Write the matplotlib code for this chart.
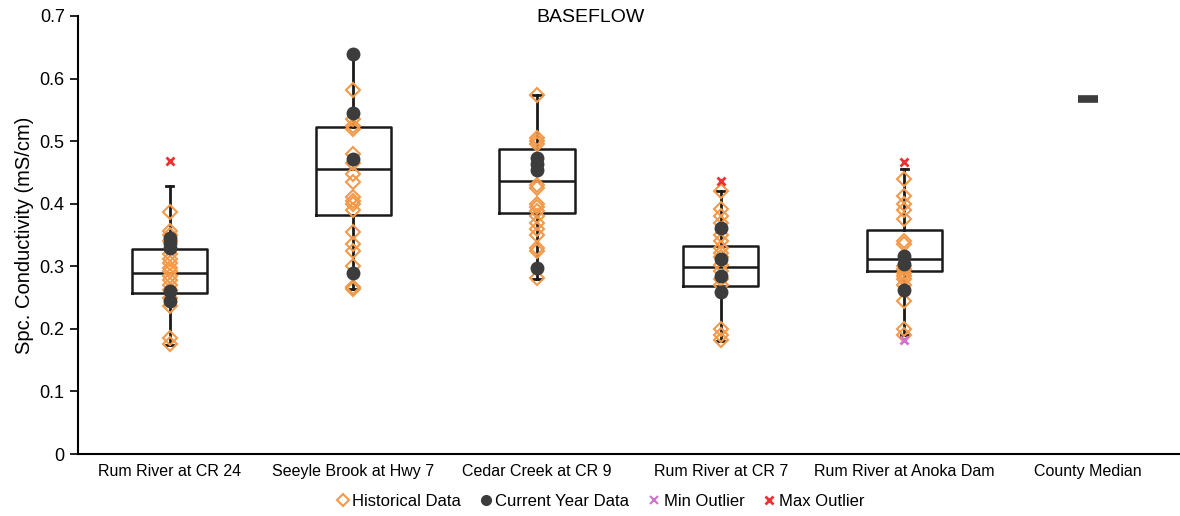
import matplotlib
matplotlib.use("Agg")
import matplotlib.pyplot as plt
from matplotlib.lines import Line2D

plt.rcParams["font.family"] = ["Liberation Sans", "DejaVu Sans"]

categories = ["Rum River at CR 24", "Seeyle Brook at Hwy 7", "Cedar Creek at CR 9",
              "Rum River at CR 7", "Rum River at Anoka Dam", "County Median"]

# box statistics for the five sites
q1 = [0.257, 0.382, 0.386, 0.268, 0.292]
med = [0.290, 0.455, 0.437, 0.299, 0.311]
q3 = [0.327, 0.522, 0.487, 0.333, 0.358]
wlo = [0.175, 0.263, 0.280, 0.180, 0.190]
whi = [0.428, 0.640, 0.573, 0.420, 0.455]

historical = [
    [0.387, 0.357, 0.350, 0.340, 0.320, 0.312, 0.305, 0.298, 0.292, 0.285, 0.278,
     0.270, 0.262, 0.250, 0.236, 0.185, 0.176],
    [0.581, 0.535, 0.525, 0.520, 0.480, 0.465, 0.447, 0.435, 0.410, 0.405, 0.400,
     0.390, 0.355, 0.335, 0.325, 0.300, 0.267, 0.263],
    [0.573, 0.505, 0.500, 0.495, 0.430, 0.425, 0.400, 0.395, 0.388, 0.380, 0.370,
     0.360, 0.350, 0.330, 0.325, 0.282],
    [0.420, 0.392, 0.380, 0.370, 0.350, 0.340, 0.330, 0.322, 0.315, 0.302, 0.292,
     0.280, 0.270, 0.200, 0.190, 0.182],
    [0.440, 0.412, 0.400, 0.390, 0.375, 0.340, 0.335, 0.300, 0.295, 0.290, 0.285,
     0.280, 0.270, 0.245, 0.200, 0.190],
]
current = [
    [0.345, 0.338, 0.330, 0.260, 0.245],
    [0.640, 0.545, 0.471, 0.289],
    [0.473, 0.463, 0.454, 0.297],
    [0.361, 0.311, 0.285, 0.259],
    [0.316, 0.303, 0.262],
]
max_outlier = [0.469, None, None, 0.437, 0.466]
min_outlier = [None, None, None, None, 0.183]
county_median = 0.567

ORANGE = "#f39a4a"
DARK = "#3c3c3c"

fig = plt.figure(figsize=(11.8, 5.16), dpi=100)
ax = fig.add_axes([0.066, 0.120, 0.934, 0.849])

stats = []
for i in range(5):
    stats.append(dict(med=med[i], q1=q1[i], q3=q3[i], whislo=wlo[i], whishi=whi[i], fliers=[]))
ax.bxp(stats, positions=range(5), widths=0.41, showfliers=False,
       boxprops=dict(color="#1a1a1a", linewidth=1.8),
       medianprops=dict(color="#1a1a1a", linewidth=1.8),
       whiskerprops=dict(color="#1a1a1a", linewidth=2.0),
       capprops=dict(color="#1a1a1a", linewidth=2.0), capwidths=0.04,
       zorder=2)

for i in range(5):
    ax.plot([i] * len(historical[i]), historical[i], linestyle="none", marker="D",
            markersize=6.8, markerfacecolor="none", markeredgecolor=ORANGE,
            markeredgewidth=1.5, zorder=3)
    ax.plot([i] * len(current[i]), current[i], linestyle="none", marker="o",
            markersize=9, markerfacecolor=DARK, markeredgecolor=DARK, zorder=4)
    if max_outlier[i] is not None:
        ax.plot([i], [max_outlier[i]], linestyle="none", marker="x", markersize=6,
                markeredgewidth=2, color="#ee3030", zorder=5)
    if min_outlier[i] is not None:
        ax.plot([i], [min_outlier[i]], linestyle="none", marker="x", markersize=6,
                markeredgewidth=2, color="#d070d0", zorder=5)

ax.plot([5], [county_median], linestyle="none", marker="_", markersize=14,
        markeredgewidth=5.5, color=DARK, zorder=4)

ax.set_xlim(-0.5, 5.5)
ax.set_ylim(0, 0.7)
ax.set_yticks([0, 0.1, 0.2, 0.3, 0.4, 0.5, 0.6, 0.7])
ax.set_yticklabels(["0", "0.1", "0.2", "0.3", "0.4", "0.5", "0.6", "0.7"], fontsize=13)
ax.set_xticks(range(6))
ax.set_xticklabels(categories, fontsize=11.5)
ax.tick_params(axis="x", length=0, pad=7)
ax.tick_params(axis="y", length=6, width=1.2, direction="out")
ax.spines["top"].set_visible(False)
ax.spines["right"].set_visible(False)
ax.spines["left"].set_linewidth(1.5)
ax.spines["bottom"].set_linewidth(1.5)
ax.set_ylabel("Spc. Conductivity (mS/cm)", fontsize=14.5, labelpad=4)
ax.text(0.5, 0.967, "BASEFLOW", transform=fig.transFigure, ha="center", va="center", fontsize=14)

handles = [
    Line2D([], [], linestyle="none", marker="D", markersize=6, markerfacecolor="none",
           markeredgecolor=ORANGE, markeredgewidth=1.5),
    Line2D([], [], linestyle="none", marker="o", markersize=7, markerfacecolor=DARK,
           markeredgecolor=DARK),
    Line2D([], [], linestyle="none", marker="x", markersize=6, markeredgewidth=1.5,
           color="#d070d0"),
    Line2D([], [], linestyle="none", marker="x", markersize=6, markeredgewidth=2,
           color="#ee3030"),
]
fig.legend(handles, ["Historical Data", "Current Year Data", "Min Outlier", "Max Outlier"],
           loc="center", bbox_to_anchor=(0.508, 0.028), ncol=4, frameon=False,
           fontsize=12, handletextpad=0.05, columnspacing=1.0, handlelength=1.0)

fig.savefig("out.png", dpi=100)
